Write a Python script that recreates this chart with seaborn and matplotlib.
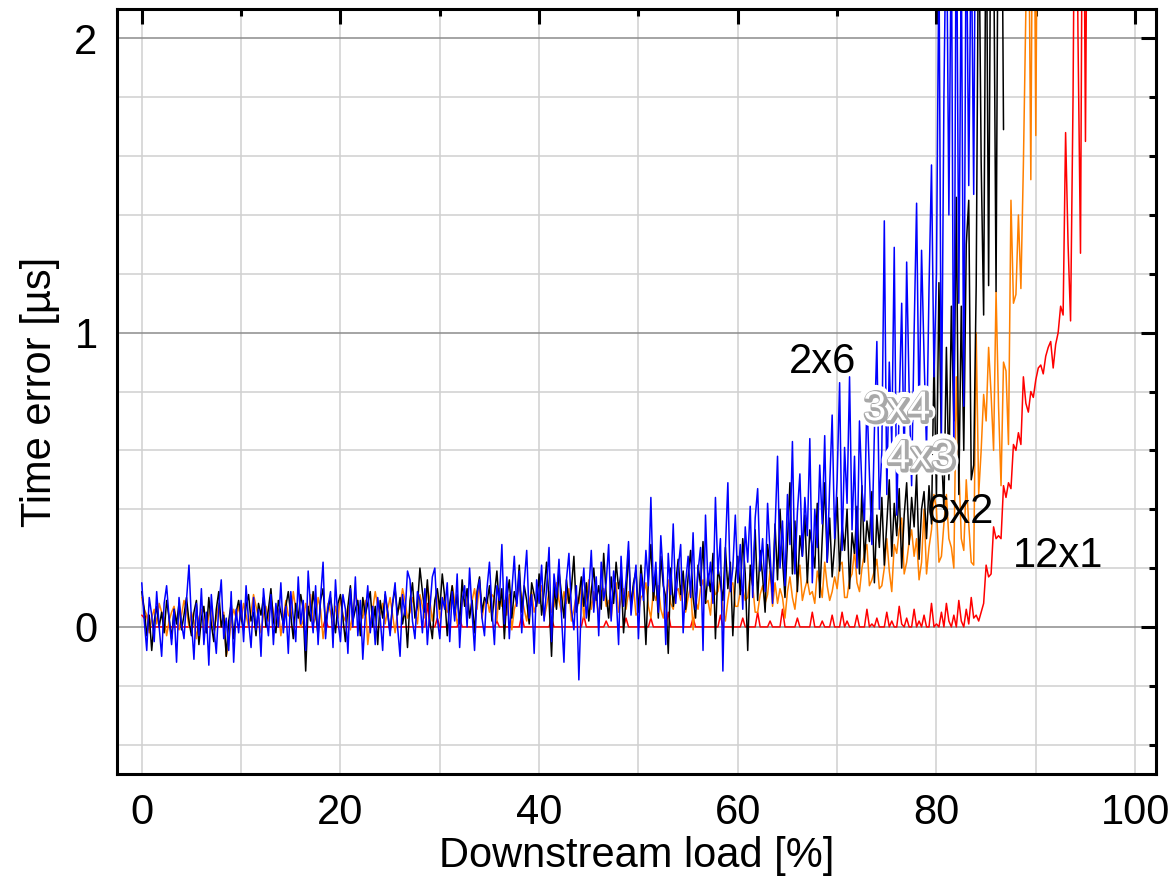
import numpy as np
import pandas as pd
import matplotlib.pyplot as plt
import matplotlib.patheffects as pe
from matplotlib.ticker import MultipleLocator
import seaborn as sns

# samples are taken every 0.25 % of downstream load, starting at 0 %
STEP = 0.25

# time error in units of 0.01 us, one row = 5 % of load
err_2x6 = [
    15, 2, -8, 10, 4, -5, 12, 0, -10, 8, 14, 3, -6, 6, -12, 10, 1, -4, 9, 21,
    2, -11, 8, -3, 13, -6, 5, -13, 11, 0, -9, 7, 16, -4, 3, -8, 12, -12, 6, -2,
    9, -5, 14, 2, -7, 10, -1, 6, -10, 13, 4, -3, 11, -6, 8, 0, 15, -2, 7, -9,
    12, 3, -5, 17, 1, 9, -8, 19, 6, -2, 14, -6, 10, 22, -4, 7, 12, -7, 16, 2,
    -5, 11, 6, -9, 13, 0, 17, -3, 9, -11, 4, 14, -2, 7, -6, 10, 3, -8, 12, 5,
    -3, 8, 15, 0, -10, 11, 4, 19, 16, 2, -4, 12, 9, -2, 13, -6, 6, 17, 20, 3,
    -4, 10, 6, 15, -5, 12, 2, 18, -7, 9, 14, 0, 20, 5, -8, 11, 16, 3, -3, 13,
    22, 6, -6, 14, 9, 28, 1, 17, -4, 12, 24, 7, 19, -2, 15, 26, 3, 11, -9, 16,
    8, 21, 2, 13, 27, -5, 18, 10, 23, 4, -12, 16, 25, 6, -1, 14, -18, 9, 20, 3,
    12, 26, 5, 17, -3, 22, 9, 15, 28, 2, 19, 11, -6, 24, 7, 16, 29, 4, 13, 21,
    -4, 18, 9, 26, 14, 44, 12, 22, 5, 31, 17, -6, 25, 11, 35, 8, 20, 28, -2, 15,
    24, 10, 32, 6, 19, 27, -8, 38, 14, 22, 8, 44, 18, 30, -15, 26, 49, 12, 20, 38,
    15, 28, 6, 34, 22, 41, 10, 37, 47, 19, 30, 12, 42, 25, 8, 33, 58, 20, 36, 14,
    45, 28, 63, 18, 39, 52, 24, 44, 31, 64, 15, 40, 27, 55, 35, 65, 22, 48, 72, 30,
    50, 83, 26, 61, 42, 85, 33, 58, 20, 70, 47, 36, 78, 52, 28, 66, 97, 40, 60, 138,
    45, 90, 62, 129, 38, 75, 110, 55, 124, 80, 48, 100, 144, 70, 128, 92, 60, 115, 157, 85,
    120, 230, 65, 180, 250, 140, 240, 55, 260, 110, 230, 75, 250, 150, 240, 147, 300,
]

err_4x3 = [
    12, 6, -3, 4, -8, 2, 7, 0, 5, -2, 9, 3, -4, 6, 1, 8, -1, 4, 10, 2,
    -3, 5, 9, -6, 3, 7, -2, 10, 1, -5, 6, 12, 0, 4, -10, 2, 8, -4, 5, 9,
    3, -1, 7, 11, 2, 5, -3, 8, 4, 10, 0, 6, 13, 2, -2, 9, 5, 1, 7, 12,
    4, -4, 8, 3, 11, 6, -15, 7, 2, 12, 5, -3, 9, 13, 1, 6, 10, 4, -2, 8,
    11, 3, -5, 7, 14, 2, 6, 9, -3, 10, 4, 8, 12, 0, 7, -6, 9, 3, 11, 5,
    -2, 8, 13, 4, 10, 1, 6, -7, 9, 15, 3, 7, 20, 12, 5, 16, 2, -4, 9, 13,
    6, 18, 10, -3, 8, 14, 4, 11, 1, 16, 7, 13, 3, 9, -2, 12, 17, 5, 10, 8,
    14, 2, 11, 19, 6, 13, -4, 10, 16, 3, 12, 8, 21, 5, 14, 9, 1, 15, 11, 7,
    18, 4, 12, 22, 9, -10, 14, 6, 19, 11, 3, 16, 8, 13, 24, 5, 10, 17, 7, 15,
    2, 12, 20, 9, 14, 6, 25, 11, 3, 17, 8, 22, 13, 18, -2, 10, 26, 7, 15, 19,
    5, 21, 12, -6, 16, 28, 9, 18, 3, 24, 14, 10, -9, 20, 7, 15, 23, 11, 19, 6,
    17, 26, 10, 3, 21, 14, 29, 8, 18, 12, 25, -4, 20, 15, 9, 27, 13, 22, -3, 16,
    24, 11, 30, 18, -8, 21, 14, 33, 9, 26, 17, 5, 28, 20, 12, 35, 16, 40, 23, 10,
    29, 49, 18, 36, 12, 31, 24, 38, 15, 33, 27, 20, 42, 10, 30, 49, 22, 37, 17, 28,
    44, 19, 35, 26, 40, 13, 32, 25, 41, 18, 48, 22, 36, 29, 46, 15, 38, 27, 44, 21,
    35, 50, 24, 42, 31, 47, 20, 38, 49, 28, 44, 34, 52, 23, 40, 46, 30, 48, 35, 90,
    45, 117, 60, 40, 95, 50, 109, 70, 146, 45, 109, 60, 130, 145, 50, 55, 116, 250, 158, 106,
    260, 116, 270, 240, 114, 280, 300, 169,
]

err_6x2 = [
    10, 6, 4, -2, 3, 6, 1, 8, 5, 3, -3, 2, 5, 7, 2, -1, 4, 9, 6, 0,
    5, 2, -4, 3, 6, 1, -2, 4, 7, -1, 3, 8, 0, 5, -10, -6, 2, 6, 3, 7,
    2, 8, 4, 0, 5, 11, 7, 3, -2, 4, 7, 2, 10, 5, 1, 6, -3, 3, 9, 4,
    3, 12, 6, 5, 0, 2, 8, 4, 11, 1, 3, 10, 6, -4, 2, 8, 5, 0, 7, 3,
    10, 4, 2, 7, -1, 5, 11, 8, 5, 3, 9, -6, 2, 6, 12, 7, 4, 8, 1, 6,
    10, 4, -2, 5, 7, 13, 9, 3, 5, 10, 6, 1, 11, 7, 3, 14, 9, 2, 8, 12,
    3, 7, 11, 5, 6, 14, 9, 1, 4, 8, 12, 7, 4, 9, 13, 6, 15, 3, 8, 10,
    5, 11, 10, 2, 13, 7, 9, 4, 11, -1, 6, 9, 14, 10, 6, 2, 9, 12, 5, 8,
    10, 14, 3, 7, 12, 5, 7, 15, 9, 5, 12, 8, 13, 2, 6, 11, 8, 14, 3, 10,
    16, 6, 12, 9, 4, 12, 13, 7, 9, 3, 11, 15, 5, 9, 13, 6, 12, 8, 14, 4,
    5, 10, 11, 15, 7, 3, 12, 9, 14, 6, 3, 10, 16, 8, 6, 12, 13, 9, 17, 5,
    10, 14, -1, 9, 6, 13, 16, 8, 9, 4, 15, 11, 12, 17, 6, 2, 9, 14, 15, 7,
    7, 12, 13, 9, 10, 18, 14, 5, 5, 11, 14, 8, 11, 19, 7, 15, 8, 13, 10, 3,
    12, 17, 10, 6, 14, 21, 9, 13, 16, 11, 12, 8, 19, 15, 10, 22, 14, 9, 12, 17,
    13, 21, 22, 10, 10, 16, 18, 26, 15, 12, 20, 25, 28, 14, 16, 19, 23, 13, 14, 20,
    30, 19, 12, 28, 25, 33, 37, 18, 22, 29, 33, 24, 30, 16, 22, 40, 18, 27, 33, 45,
    40, 22, 24, 35, 45, 30, 27, 20, 85, 55, 30, 26, 50, 35, 22, 21, 100, 45, 60, 79,
    70, 95, 79, 60, 114, 75, 48, 90, 87, 62, 145, 110, 113, 140, 115, 157, 210, 260, 152, 300,
    167, 300,
]

err_12x1 = [
    4, 3, 4, 0, 0, 0, 0, 0, 0, 0, 0, 0, 0, 0, 0, 0, 0, 0, 0, 0,
    0, 0, 0, 0, 0, 0, 0, 0, 0, 0, 0, 0, 0, 0, 0, 0, 0, 0, 0, 0,
    0, 0, 0, 0, 0, 0, 0, 0, 0, 0, 0, 0, 0, 0, 0, 0, 0, 0, 0, 0,
    0, 0, 0, 0, 0, 0, 0, 0, 0, 0, 0, 0, 0, 0, 3, 0, 0, 0, 0, 0,
    0, 0, 0, 0, 0, 0, 0, 0, 0, 0, 0, 0, 0, 0, 0, 0, 0, 0, 0, 0,
    0, 0, 0, 0, 0, 0, 0, 0, 0, 0, 0, 0, 0, 0, 0, 8, 0, 0, 0, 3,
    0, 0, 0, 0, 0, 0, 0, 0, 3, 0, 0, 0, 0, 0, 0, 0, 0, 0, 0, 0,
    0, 0, 0, 2, 0, 0, 0, 0, 0, 0, 0, 0, 0, 4, 0, 0, 0, 0, 0, 0,
    0, 0, 0, 0, 0, 3, 0, 0, 0, 0, 0, 0, 0, 0, 0, 0, 0, 0, 4, 0,
    0, 0, 0, 0, 0, 0, 0, 2, 0, 0, 0, 0, 0, 0, 0, 3, 0, 0, 0, 0,
    0, 0, 0, 0, 0, 3, 0, 0, 0, 0, 0, 0, 5, 0, 0, 0, 0, 0, 0, 0,
    0, 0, 3, 0, 0, 0, 0, 0, 0, 0, 0, 0, 0, 4, 0, 0, 0, 0, 0, 0,
    0, 0, 3, 0, 0, 0, 0, 0, 5, 0, 0, 0, 0, 2, 0, 0, 0, 0, 6, 0,
    0, 0, 0, 0, 3, 0, 0, 0, 0, 0, 5, 0, 0, 0, 2, 0, 0, 0, 4, 0,
    0, 0, 5, 0, 2, 0, 0, 0, 4, 0, 0, 0, 6, 0, 1, 0, 3, 0, 0, 0,
    5, 0, 2, 0, 0, 7, 1, 0, 3, 0, 0, 6, 0, 2, 0, 4, 0, 0, 8, 0,
    1, 0, 5, 0, 8, 2, 0, 4, 0, 9, 2, 0, 6, 1, 10, 3, 4, 2, 5, 8,
    21, 17, 18, 34, 30, 31, 30, 48, 44, 49, 47, 62, 60, 66, 62, 85, 76, 73, 80, 78,
    84, 88, 89, 86, 92, 95, 97, 88, 96, 100, 109, 106, 168, 130, 104, 180, 300, 200, 127, 300,
    165, 300,
]

configs = ['12x1', '6x2', '4x3', '2x6']
series = [err_12x1, err_6x2, err_4x3, err_2x6]
colors = ['#ff0000', '#ff8000', '#000000', '#0000ff']

frames = []
for name, vals in zip(configs, series):
    frames.append(pd.DataFrame({
        'load': np.arange(len(vals)) * STEP,
        'err': np.array(vals) / 100.0,
        'cfg': name,
    }))
df = pd.concat(frames, ignore_index=True)

sns.set_style('white')
plt.rcParams['font.family'] = ['Liberation Sans', 'DejaVu Sans']
plt.rcParams['text.color'] = 'black'
plt.rcParams['axes.labelcolor'] = 'black'
plt.rcParams['xtick.color'] = 'black'
plt.rcParams['ytick.color'] = 'black'

fig = plt.figure(figsize=(11.73, 8.83), dpi=100)
ax = fig.add_axes([0.0997, 0.1234, 0.8858, 0.8664])

sns.lineplot(data=df, x='load', y='err', hue='cfg', hue_order=configs,
             palette=colors, estimator=None, sort=False, linewidth=1.1,
             legend=False, ax=ax)

ax.set_xlim(-2.5, 102.1)
ax.set_ylim(-0.5, 2.1)

ax.xaxis.set_major_locator(MultipleLocator(20))
ax.xaxis.set_minor_locator(MultipleLocator(10))
ax.yaxis.set_major_locator(MultipleLocator(1))
ax.yaxis.set_minor_locator(MultipleLocator(0.2))

ax.set_axisbelow(True)
ax.grid(which='minor', axis='both', color='#d0d0d0', linewidth=1.1)
ax.grid(which='major', axis='x', color='#d0d0d0', linewidth=1.1)
ax.grid(which='major', axis='y', color='#8c8c8c', linewidth=1.1)

ax.tick_params(which='both', direction='in', top=True, right=True,
               width=2.2, color='black', labelcolor='black', labelsize=30)
ax.tick_params(which='major', length=11, pad=14)
ax.tick_params(which='minor', length=5)
for sp in ax.spines.values():
    sp.set_linewidth(2.2)
    sp.set_color('black')

ax.set_xlabel('Downstream load [%]', fontsize=30, labelpad=2, color='black')
ax.set_ylabel('Time error [µs]', fontsize=30, labelpad=10, color='black')

# curve labels
ax.text(68.5, 0.90, '2x6', fontsize=30, ha='center', va='center', color='black')
glow = [pe.Stroke(linewidth=9, foreground='white'),
        pe.Stroke(linewidth=3.5, foreground='#a8a8a8', offset=(1, -1)),
        pe.Normal()]
ax.text(76.0, 0.74, '3x4', fontsize=30, ha='center', va='center',
        color='white', path_effects=glow)
ax.text(78.4, 0.575, '4x3', fontsize=30, ha='center', va='center',
        color='white', path_effects=glow)
ax.text(82.4, 0.39, '6x2', fontsize=30, ha='center', va='center', color='black')
ax.text(92.2, 0.24, '12x1', fontsize=30, ha='center', va='center', color='black')

fig.savefig('out.png', dpi=100)
